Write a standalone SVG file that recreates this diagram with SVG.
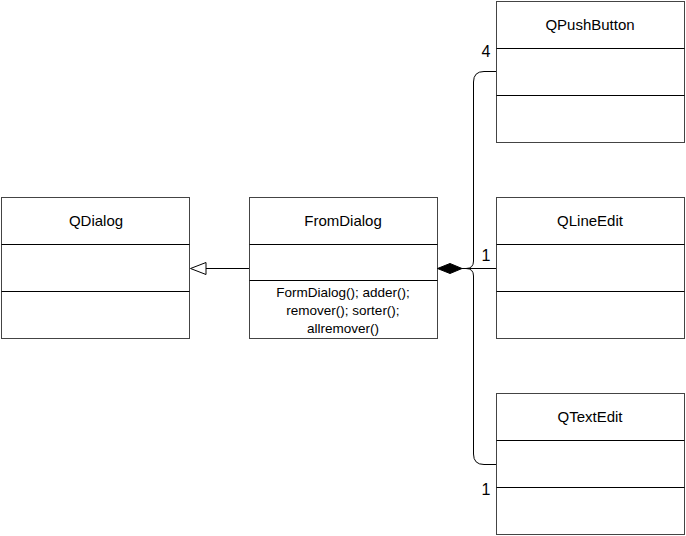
<svg xmlns="http://www.w3.org/2000/svg" width="686" height="536" viewBox="0 0 686 536">
<style>
.box{fill:#fff;stroke:#444;stroke-width:1}
.sep{stroke:#000;stroke-width:1}
.t{font-family:"Liberation Sans",Arial,sans-serif;font-size:15px;fill:#000;text-anchor:middle}
.m{font-family:"Liberation Sans",Arial,sans-serif;font-size:13.5px;fill:#000;text-anchor:middle}
.mul{font-family:"Liberation Sans",Arial,sans-serif;font-size:16px;fill:#000;text-anchor:middle}
.c{fill:none;stroke:#000;stroke-width:1}
</style>
<rect width="686" height="536" fill="#fff"/>
<g id="QDialog">
<rect class="box" x="1.5" y="197.5" width="188" height="141"/>
<line class="sep" x1="1.5" y1="244.5" x2="189.5" y2="244.5"/>
<line class="sep" x1="1.5" y1="291.5" x2="189.5" y2="291.5"/>
<text class="t" x="96" y="226">QDialog</text>
</g>
<g id="FromDialog">
<rect class="box" x="249.5" y="197.5" width="188" height="141"/>
<line class="sep" x1="249.5" y1="244.5" x2="437.5" y2="244.5"/>
<line class="sep" x1="249.5" y1="280.5" x2="437.5" y2="280.5"/>
<text class="t" x="343" y="226">FromDialog</text>
<text class="m" x="343" y="297">FormDialog(); adder();</text>
<text class="m" x="343" y="315">remover(); sorter();</text>
<text class="m" x="343" y="333">allremover()</text>
</g>
<g id="QPushButton">
<rect class="box" x="496.5" y="1.5" width="188" height="141"/>
<line class="sep" x1="496.5" y1="48.5" x2="684.5" y2="48.5"/>
<line class="sep" x1="496.5" y1="95.5" x2="684.5" y2="95.5"/>
<text class="t" x="590" y="30">QPushButton</text>
</g>
<g id="QLineEdit">
<rect class="box" x="496.5" y="197.5" width="188" height="141"/>
<line class="sep" x1="496.5" y1="244.5" x2="684.5" y2="244.5"/>
<line class="sep" x1="496.5" y1="291.5" x2="684.5" y2="291.5"/>
<text class="t" x="590" y="226">QLineEdit</text>
</g>
<g id="QTextEdit">
<rect class="box" x="496.5" y="393.5" width="188" height="141"/>
<line class="sep" x1="496.5" y1="440.5" x2="684.5" y2="440.5"/>
<line class="sep" x1="496.5" y1="487.5" x2="684.5" y2="487.5"/>
<text class="t" x="590" y="422">QTextEdit</text>
</g>
<g id="connectors">
<line class="c" x1="249" y1="268.5" x2="206" y2="268.5"/>
<polygon points="190.5,268.5 206,262.5 206,274.5" fill="#fff" stroke="#000" stroke-width="1"/>
<polygon points="437.5,268.5 450,263.5 462,268.5 450,273.5" fill="#000" stroke="#000" stroke-width="1"/>
<line class="c" x1="462" y1="268.5" x2="496" y2="268.5"/>
<path class="c" d="M466,268.5 Q473.5,268.5 473.5,261 V82 Q473.5,71.5 484,71.5 H496"/>
<path class="c" d="M466,268.5 Q473.5,268.5 473.5,276 V454 Q473.5,464.5 484,464.5 H496"/>
<text class="mul" x="486" y="57">4</text>
<text class="mul" x="486" y="261">1</text>
<text class="mul" x="486" y="495">1</text>
</g>
</svg>
